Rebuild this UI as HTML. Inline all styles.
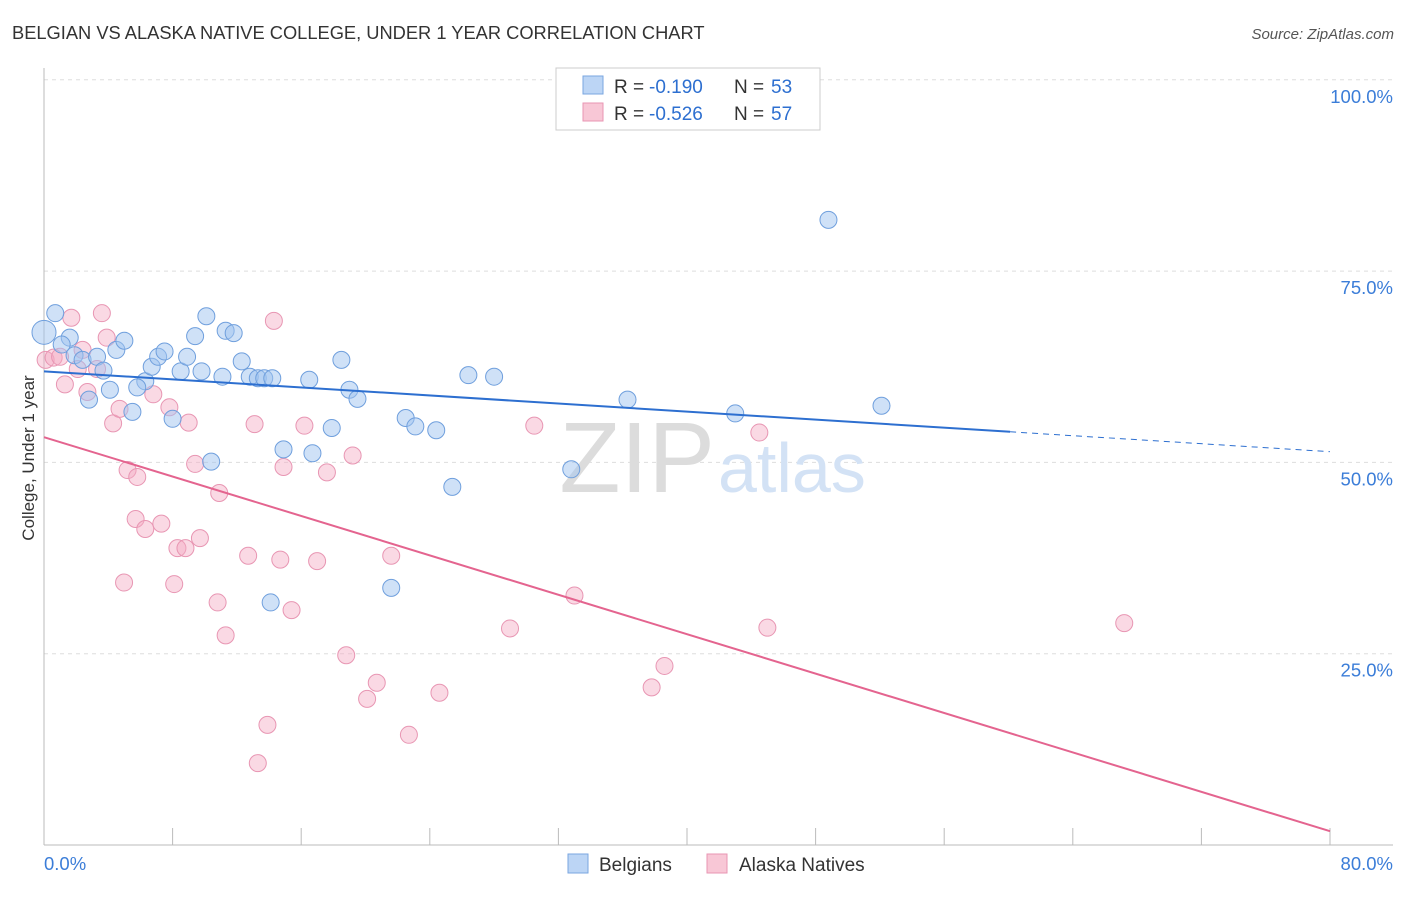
<!DOCTYPE html>
<html><head><meta charset="utf-8"><style>
body{margin:0;background:#fff;font-family:"Liberation Sans",sans-serif}
svg text{font-family:"Liberation Sans",sans-serif}
</style></head><body>
<svg id="chart" width="1406" height="892">
<text x="12" y="39" font-size="18.3" fill="#333">BELGIAN VS ALASKA NATIVE COLLEGE, UNDER 1 YEAR CORRELATION CHART</text>
<text x="1394" y="39" font-size="15" fill="#555" font-style="italic" text-anchor="end">Source: ZipAtlas.com</text>
<g id="grid"></g>
<text x="715" y="492" font-size="100" fill="#dcdcdc" text-anchor="end" font-family="Liberation Serif">ZIP</text>
<text x="718" y="492" font-size="70" fill="#d3e2f5">atlas</text>
<text transform="translate(34,458) rotate(-90)" font-size="17" fill="#333" text-anchor="middle">College, Under 1 year</text>
<g id="pts"></g>
<g id="lines"></g>
<rect x="556" y="68" width="264" height="62" fill="#fff" stroke="#ccc"/>
<rect x="583" y="76" width="20" height="18" fill="#bcd5f5" stroke="#7aa6e0"/>
<rect x="583" y="103" width="20" height="18" fill="#f8c7d6" stroke="#e896b3"/>
<g font-size="19">
<text x="614" y="93" fill="#333">R =</text><text x="649" y="93" fill="#2d6fd0">-0.190</text><text x="734" y="93" fill="#333">N =</text><text x="771" y="93" fill="#2d6fd0">53</text>
<text x="614" y="120" fill="#333">R =</text><text x="649" y="120" fill="#2d6fd0">-0.526</text><text x="734" y="120" fill="#333">N =</text><text x="771" y="120" fill="#2d6fd0">57</text>
</g>
<rect x="568" y="854" width="20" height="19" fill="#bcd5f5" stroke="#7aa6e0"/>
<text x="599" y="871" font-size="19" fill="#333">Belgians</text>
<rect x="707" y="854" width="20" height="19" fill="#f8c7d6" stroke="#e896b3"/>
<text x="739" y="871" font-size="19" fill="#333">Alaska Natives</text>
</svg>
<script>
const yTicks=[25,50,75,100];
const yTickLabels=["25.0%","50.0%","75.0%","100.0%"];
const xTickLabels=["0.0%","80.0%"];
const blueX=[0.7,0,1.6,1.1,1.9,2.4,3.3,3.7,4.5,5.0,2.8,4.1,5.5,6.3,5.8,6.7,7.1,7.5,8.0,8.5,8.9,9.4,10.1,9.8,10.4,11.1,11.3,11.8,12.3,12.8,13.3,13.7,14.2,14.9,14.1,16.5,16.7,17.9,18.5,19.0,19.5,22.5,23.1,24.4,25.4,26.4,28.0,21.6,32.8,36.3,43.0,48.8,52.1];
const blueY=[69.5,67,66.3,65.4,64,63.4,63.8,62,64.7,65.9,58.2,59.5,56.6,60.6,59.8,62.5,63.8,64.5,55.7,61.9,63.8,66.5,69.1,61.9,50.1,61.2,67.2,66.9,63.2,61.2,61.0,61.0,61.0,51.7,31.7,60.8,51.2,54.5,63.4,59.5,58.3,55.8,54.7,54.2,46.8,61.4,61.2,33.6,49.1,58.2,56.4,81.7,57.4];
const pinkX=[0.1,0.6,1.0,1.3,1.7,2.1,2.4,2.7,3.3,3.6,3.9,4.3,4.7,4.98,5.2,5.8,5.7,6.3,6.8,7.3,7.8,8.1,8.3,8.8,9.0,9.4,9.7,10.8,10.9,11.3,12.7,13.1,13.3,13.9,14.3,14.7,14.9,15.4,16.2,16.99,17.6,18.8,19.2,20.1,20.7,21.6,22.7,24.6,28.99,30.5,33.0,37.8,38.6,44.5,45.0,67.2];
const pinkY=[63.4,63.7,63.8,60.2,68.9,62.2,64.7,59.2,62.2,69.5,66.3,55.1,57.0,34.3,49.0,48.1,42.6,41.3,58.9,42.0,57.2,34.1,38.8,38.8,55.2,49.8,40.1,31.7,46.0,27.4,37.8,55.0,10.7,15.7,68.5,37.3,49.4,30.7,54.8,37.1,48.7,24.8,50.9,19.1,21.2,37.8,14.4,19.9,28.3,54.8,32.6,20.6,23.4,53.9,28.4,29.0];
const X=v=>44+v*16.075, Y=v=>845-v*7.652;
const ns="http://www.w3.org/2000/svg";
function mk(t,a,p){const e=document.createElementNS(ns,t);for(const k in a)e.setAttribute(k,a[k]);p.appendChild(e);return e;}
const grid=document.getElementById('grid');
yTicks.forEach((t,i)=>{
 const l=mk('line',{x1:44,x2:1393,y1:Y(t),y2:Y(t),stroke:'#ddd','stroke-dasharray':'4,4'},grid);
 
 
 const tx=mk('text',{x:1393,y:Y(t)+23,'font-size':18.5,fill:'#3b7dd8','text-anchor':'end'},grid);
 tx.textContent=yTickLabels[i];
 
 
});
const ax=mk('line',{x1:44,x2:1393,y1:845,y2:845,stroke:'#bbb'},grid);


const ay=mk('line',{x1:44,x2:44,y1:68,y2:845,stroke:'#bbb'},grid);


for(let i=0;i<=10;i++){
 const t=mk('line',{x1:X(i*8),x2:X(i*8),y1:828,y2:845,stroke:'#bbb'},grid);
 
 
}
[[0,'start',44],[80,'end',1393]].forEach((d,i)=>{
 const tx=mk('text',{x:d[2],y:870,'font-size':18.5,fill:'#3b7dd8','text-anchor':d[1]},grid);
 tx.textContent=xTickLabels[i];
 
 
});
const pts=document.getElementById('pts');
pinkX.forEach((x,i)=>{
 const c=mk('circle',{cx:X(x),cy:Y(pinkY[i]),r:8.5,fill:'rgba(244,170,195,0.45)',stroke:'#e896b3','stroke-width':1},pts);
 
 
});
blueX.forEach((x,i)=>{
 const c=mk('circle',{cx:X(x),cy:Y(blueY[i]),r:i==1?12:8.5,fill:'rgba(160,196,240,0.5)',stroke:'#6f9fdd','stroke-width':1},pts);
 
 
});
const lines=document.getElementById('lines');
const bl=mk('line',{x1:X(0),y1:Y(61.9),x2:X(60.1),y2:Y(54.0),stroke:'#2d6fd0','stroke-width':2},lines);


const bd=mk('line',{x1:X(60.1),y1:Y(54.0),x2:X(80),y2:Y(51.4),stroke:'#2d6fd0','stroke-width':1,'stroke-dasharray':'6,5'},lines);


const pl=mk('line',{x1:X(0),y1:Y(53.3),x2:X(80),y2:Y(1.8),stroke:'#e4648f','stroke-width':2},lines);


</script>
</body></html>
